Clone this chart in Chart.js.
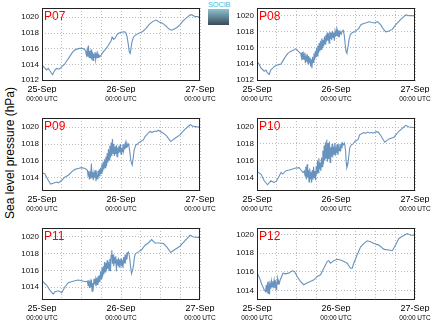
<!DOCTYPE html>
<html><head><meta charset="utf-8">
<script src="https://cdn.jsdelivr.net/npm/chart.js@4.4.1/dist/chart.umd.min.js"></script>
<style>
html,body{margin:0;padding:0;background:#fff;width:434px;height:327px;overflow:hidden;position:relative;font-family:"Liberation Sans",Arial,sans-serif;}
canvas{position:absolute;}
#ylab{position:absolute;left:10px;top:153px;transform:translate(-50%,-50%) rotate(-90deg);font-size:12px;white-space:nowrap;color:#000;}
#logo{position:absolute;left:208px;top:1px;width:21px;}
#logo .t{font-size:7.5px;line-height:7px;color:#35bfe0;letter-spacing:-0.2px;text-align:center;}
#logo .g{margin-top:1px;height:16px;background:linear-gradient(#8cc3cf,#3a4a58);}
</style></head><body>
<div id="ylab">Sea level pressure (hPa)</div>
<div id="logo"><div class="t">SOCIB</div><div class="g"></div></div>
<script>
// ---- data ----
const dateLabels = ['25-Sep','26-Sep','27-Sep'];
const timeLabel = '00:00 UTC';
const hourTicks = [0,6,12,18,24,30,36,42,48];
const dayTicks = [0,24,48];
const pressureTicks = [1012,1014,1016,1018,1020];
const stationNames = ['P07','P08','P09','P10','P11','P12'];
const yMin = [1011.9, 1011.9, 1012.43, 1012.43, 1012.45, 1013.0];
const yMax = [1021.18, 1020.95, 1021.1, 1021.07, 1021.07, 1020.7];

// [hours since 25-Sep 00:00 UTC, hPa]
const P07 = [[0,1013.95],[0.7,1013.6],[1.4,1013.3],[1.9,1013.5],[2.4,1013.2],[3.2,1012.7],[3.8,1013.2],[4.4,1013.5],[5.2,1013.4],[6.0,1013.7],[6.8,1014.0],[7.6,1014.5],[8.4,1015.0],[9.2,1015.5],[9.8,1015.8],[10.6,1015.95],[11.4,1016.05],[12.2,1016.05],[13.0,1015.9],[13.3,1015.6],[13.5,1015.2],[13.7,1015.8],[13.9,1015.0],[14.1,1016.4],[14.3,1014.9],[14.5,1015.7],[14.7,1014.8],[14.9,1015.9],[15.1,1014.6],[15.3,1015.6],[15.5,1014.5],[15.7,1015.4],[15.9,1014.9],[16.1,1015.6],[16.3,1014.6],[16.5,1015.3],[16.7,1014.8],[16.9,1015.4],[17.1,1014.9],[17.3,1015.2],[17.6,1015.0],[18.0,1015.2],[18.6,1015.6],[19.2,1015.9],[19.8,1016.2],[20.4,1016.6],[21.0,1017.0],[21.3,1017.5],[21.8,1017.2],[22.3,1017.4],[22.8,1017.8],[23.4,1018.0],[24.0,1018.1],[24.8,1018.15],[25.4,1018.1],[25.8,1017.6],[26.2,1016.6],[26.5,1015.6],[26.8,1015.4],[27.3,1016.8],[27.8,1017.5],[28.6,1017.8],[29.6,1018.0],[30.6,1018.2],[31.6,1018.6],[32.6,1019.1],[33.6,1019.45],[34.6,1019.65],[35.6,1019.4],[36.6,1019.25],[37.6,1018.9],[38.6,1018.5],[39.4,1018.35],[40.2,1018.5],[41.0,1018.7],[42.0,1019.1],[43.0,1019.6],[44.0,1019.95],[45.0,1020.3],[45.6,1020.3],[46.4,1020.1],[47.2,1020.1],[48.0,1019.95]];
const P08 = [[0,1014.3],[0.6,1014.0],[1.2,1013.5],[1.8,1013.3],[2.2,1013.1],[2.7,1013.25],[3.2,1012.9],[3.7,1012.7],[4.2,1013.3],[4.8,1013.5],[5.3,1013.7],[6.3,1013.9],[7.3,1014.0],[8.3,1014.7],[9.3,1015.3],[10.3,1015.6],[11.0,1015.7],[11.8,1015.9],[12.5,1015.6],[13.0,1015.4],[13.3,1015.3],[13.5,1014.8],[13.7,1015.5],[13.9,1014.5],[14.1,1015.2],[14.3,1014.6],[14.5,1015.4],[14.7,1014.1],[14.9,1014.9],[15.1,1014.3],[15.3,1015.2],[15.5,1014.0],[15.7,1015.0],[15.9,1014.2],[16.1,1014.8],[16.3,1013.7],[16.5,1014.6],[16.7,1013.5],[16.9,1014.9],[17.1,1014.2],[17.3,1015.3],[17.5,1014.5],[17.7,1015.6],[17.9,1014.8],[18.1,1016.0],[18.3,1015.0],[18.5,1016.3],[18.7,1015.3],[18.9,1016.6],[19.1,1015.6],[19.3,1016.9],[19.5,1015.8],[19.7,1017.2],[19.9,1016.0],[20.1,1017.0],[20.3,1016.2],[20.5,1017.4],[20.7,1016.5],[20.9,1017.6],[21.1,1016.8],[21.3,1017.9],[21.5,1016.9],[21.7,1017.8],[21.9,1016.6],[22.1,1018.0],[22.3,1017.1],[22.5,1017.9],[22.7,1017.0],[22.9,1018.1],[23.1,1017.3],[23.3,1017.9],[23.5,1016.9],[23.7,1018.0],[23.9,1017.4],[24.1,1018.2],[24.3,1017.5],[24.5,1018.1],[24.7,1017.4],[24.9,1018.2],[25.1,1017.6],[25.3,1018.0],[25.6,1017.7],[25.9,1018.1],[26.2,1018.2],[26.5,1017.6],[26.8,1016.4],[27.1,1015.5],[27.3,1015.35],[27.6,1016.0],[28.0,1017.1],[28.4,1017.7],[29.0,1017.9],[29.6,1018.0],[30.3,1018.2],[30.9,1018.4],[31.5,1018.85],[32.2,1019.0],[33.0,1019.1],[34.0,1019.25],[35.6,1019.1],[36.6,1019.25],[37.6,1018.85],[38.3,1018.4],[39.1,1018.0],[40.1,1018.1],[41.1,1018.3],[42.1,1018.85],[43.6,1019.5],[45.2,1020.1],[46.2,1020.0],[47.0,1020.0],[48.0,1019.95]];
const P09 = [[0,1014.6],[0.9,1014.45],[1.9,1013.7],[2.6,1013.25],[3.4,1013.35],[4.5,1013.5],[5.0,1013.4],[6.0,1013.7],[6.5,1013.9],[7.0,1014.1],[8.0,1014.3],[9.0,1014.7],[10.0,1015.0],[11.0,1015.1],[12.0,1015.2],[13.1,1015.1],[13.8,1014.9],[14.0,1014.2],[14.2,1014.8],[14.4,1013.8],[14.6,1014.5],[14.8,1013.9],[15.0,1015.7],[15.2,1014.0],[15.4,1014.7],[15.6,1013.7],[15.8,1014.6],[16.0,1014.0],[16.2,1014.9],[16.4,1013.6],[16.6,1014.4],[16.8,1013.9],[17.0,1014.8],[17.2,1014.1],[17.4,1015.0],[17.6,1014.2],[17.8,1015.2],[18.0,1014.5],[18.2,1015.6],[18.4,1014.7],[18.6,1015.9],[18.8,1015.0],[19.0,1016.2],[19.2,1015.2],[19.4,1016.5],[19.6,1015.4],[19.8,1016.9],[20.0,1015.8],[20.2,1017.4],[20.4,1016.1],[20.6,1017.8],[20.8,1016.4],[21.0,1018.2],[21.2,1016.6],[21.4,1018.6],[21.6,1016.9],[21.8,1018.0],[22.0,1016.6],[22.2,1017.7],[22.4,1016.8],[22.6,1017.9],[22.8,1016.5],[23.0,1017.6],[23.2,1016.9],[23.4,1017.8],[23.6,1017.0],[23.8,1018.0],[24.0,1016.8],[24.2,1017.6],[24.4,1017.1],[24.6,1018.0],[24.8,1017.2],[25.0,1017.8],[25.2,1017.4],[25.4,1018.1],[25.6,1017.6],[25.8,1018.1],[26.0,1017.8],[26.3,1018.0],[26.6,1017.3],[27.0,1016.0],[27.4,1015.5],[27.7,1016.3],[28.0,1017.3],[28.5,1017.9],[29.0,1018.0],[29.5,1018.2],[30.0,1018.3],[30.8,1018.5],[31.3,1018.9],[31.8,1019.1],[32.3,1019.3],[32.8,1019.5],[33.3,1019.4],[33.8,1019.45],[34.3,1019.55],[34.8,1019.5],[35.3,1019.65],[36.9,1019.3],[37.9,1018.95],[39.1,1018.3],[40.4,1018.7],[41.9,1019.1],[43.4,1019.75],[45.0,1020.3],[46.0,1020.1],[48.0,1020.0]];
const P10 = [[0,1014.72],[1.2,1014.44],[2.2,1013.64],[3.2,1013.17],[4.2,1013.64],[5.1,1013.44],[5.8,1013.56],[6.8,1014.24],[7.3,1014.64],[7.8,1014.44],[8.8,1014.84],[9.8,1014.91],[10.8,1015.03],[11.8,1015.15],[12.8,1015.2],[13.2,1015.0],[13.6,1014.8],[14.0,1014.6],[14.4,1014.8],[14.6,1014.2],[14.8,1015.3],[15.0,1013.8],[15.2,1015.6],[15.4,1014.0],[15.6,1014.9],[15.8,1013.5],[16.0,1015.1],[16.2,1013.9],[16.4,1014.7],[16.6,1013.4],[16.8,1014.9],[17.0,1013.8],[17.2,1015.3],[17.4,1014.0],[17.6,1014.8],[17.8,1013.7],[18.0,1015.4],[18.2,1014.4],[18.4,1016.0],[18.6,1014.6],[18.8,1016.3],[19.0,1015.0],[19.2,1015.8],[19.4,1014.8],[19.6,1016.4],[19.8,1015.3],[20.0,1017.2],[20.2,1015.6],[20.4,1017.8],[20.6,1016.0],[20.8,1018.2],[21.0,1016.3],[21.2,1018.5],[21.4,1015.9],[21.6,1018.1],[21.8,1016.2],[22.0,1018.3],[22.2,1015.8],[22.4,1017.6],[22.6,1016.5],[22.8,1018.0],[23.0,1016.4],[23.2,1017.7],[23.4,1016.8],[23.6,1018.1],[23.8,1016.6],[24.0,1017.5],[24.2,1016.9],[24.4,1018.0],[24.6,1016.7],[24.8,1017.6],[25.0,1017.2],[25.2,1018.0],[25.4,1017.1],[25.6,1017.9],[25.8,1017.5],[26.0,1018.1],[26.3,1017.9],[26.6,1018.1],[26.9,1017.2],[27.1,1015.8],[27.3,1015.2],[27.6,1015.6],[27.9,1016.6],[28.2,1017.6],[28.7,1017.9],[29.2,1018.0],[29.7,1018.3],[30.2,1018.4],[30.7,1018.5],[31.2,1019.1],[31.8,1019.2],[32.4,1019.35],[33.0,1019.25],[33.6,1019.4],[34.2,1019.3],[34.8,1019.35],[35.4,1019.3],[36.3,1019.45],[36.8,1019.4],[37.6,1019.0],[38.8,1018.2],[40.1,1018.6],[41.6,1018.8],[43.1,1019.5],[45.2,1020.2],[46.2,1020.0],[48.0,1019.92]];
const P11 = [[0,1014.72],[1.4,1014.24],[2.4,1013.64],[3.4,1013.17],[3.9,1013.44],[5.0,1013.56],[6.0,1013.33],[7.0,1014.04],[8.0,1014.52],[9.0,1014.64],[10.0,1014.76],[11.0,1014.84],[12.1,1014.76],[13.1,1014.64],[13.8,1014.7],[14.0,1014.2],[14.2,1014.8],[14.4,1013.9],[14.6,1014.6],[14.8,1014.0],[15.0,1014.9],[15.2,1013.5],[15.4,1014.5],[15.6,1014.0],[15.8,1015.0],[16.0,1014.3],[16.2,1014.9],[16.4,1014.1],[16.6,1015.1],[16.8,1014.3],[17.0,1015.3],[17.2,1014.5],[17.4,1015.4],[17.6,1014.6],[17.8,1015.9],[18.0,1015.0],[18.2,1016.3],[18.4,1015.2],[18.6,1016.5],[18.8,1015.5],[19.0,1017.0],[19.2,1015.8],[19.4,1016.9],[19.6,1016.0],[19.8,1017.2],[20.0,1016.2],[20.2,1017.0],[20.4,1016.0],[20.6,1017.4],[20.8,1015.9],[21.0,1017.8],[21.2,1018.4],[21.4,1016.8],[21.6,1017.9],[21.8,1016.5],[22.0,1017.6],[22.2,1016.9],[22.4,1017.7],[22.6,1015.9],[22.8,1017.3],[23.0,1016.6],[23.2,1017.5],[23.4,1016.4],[23.6,1017.3],[23.8,1016.7],[24.0,1017.4],[24.2,1016.5],[24.4,1017.2],[24.6,1016.3],[24.8,1017.6],[25.0,1016.9],[25.2,1017.9],[25.4,1017.2],[25.6,1017.8],[25.8,1017.3],[26.0,1018.1],[26.3,1018.2],[26.6,1017.6],[26.9,1016.5],[27.2,1015.6],[27.5,1016.0],[27.8,1016.6],[28.1,1017.6],[28.4,1018.0],[29.3,1018.21],[30.3,1018.49],[31.3,1019.01],[32.3,1019.28],[33.3,1019.68],[34.3,1019.28],[35.8,1019.28],[36.9,1019.21],[37.9,1018.81],[39.1,1018.13],[40.4,1018.49],[41.9,1018.89],[43.4,1019.52],[45.0,1020.2],[46.0,1020.0],[48.0,1019.92]];
const P12 = [[0,1015.94],[0.8,1015.34],[1.5,1014.63],[2.2,1014.1],[2.6,1013.9],[2.8,1014.6],[3.0,1013.8],[3.2,1014.9],[3.4,1013.7],[3.6,1015.0],[3.8,1013.6],[4.0,1014.7],[4.2,1014.2],[4.4,1015.0],[4.6,1014.4],[4.8,1015.0],[5.0,1014.5],[5.2,1015.1],[5.4,1014.3],[5.6,1015.1],[5.8,1014.1],[6.0,1014.6],[6.2,1015.3],[6.4,1014.7],[6.6,1015.0],[6.8,1014.8],[7.1,1015.2],[7.9,1015.87],[8.6,1015.8],[9.6,1015.87],[10.7,1016.12],[11.4,1016.05],[12.2,1015.52],[13.2,1014.99],[14.2,1014.63],[15.2,1014.81],[16.2,1014.99],[17.3,1015.16],[18.3,1015.52],[19.3,1015.69],[20.3,1016.4],[21.3,1017.11],[21.8,1017.21],[22.3,1016.93],[23.3,1017.21],[24.4,1017.35],[25.4,1017.28],[26.4,1017.11],[27.4,1016.93],[28.4,1016.4],[28.9,1016.4],[29.4,1016.93],[30.4,1017.81],[31.5,1018.69],[32.5,1019.05],[33.5,1019.33],[34.5,1019.22],[35.5,1019.05],[37.0,1018.87],[38.6,1018.41],[40.1,1018.34],[41.1,1018.27],[42.1,1018.87],[43.1,1019.58],[44.7,1019.93],[45.7,1020.11],[46.7,1019.93],[48.0,1019.93]];
const series = [P07,P08,P09,P10,P11,P12];

// ---- layout ----
const panelPos = [
  {left:42, top:8, h:73},{left:257, top:8, h:73},
  {left:42, top:118, h:73},{left:257, top:118, h:73},
  {left:42, top:228, h:72},{left:257, top:228, h:72}
];
const FONT = '"Liberation Sans", Arial, sans-serif';

const framePlugin = {
  id: 'frame',
  afterDraw(chart, args, opts) {
    const {ctx, chartArea: a} = chart;
    ctx.save();
    ctx.strokeStyle = '#222';
    ctx.lineWidth = 1;
    ctx.strokeRect(a.left + 0.5, a.top + 0.5, a.right - a.left - 1, a.bottom - a.top - 1);
    ctx.fillStyle = '#ff0000';
    ctx.font = '12px ' + FONT;
    ctx.textBaseline = 'top';
    ctx.fillText(opts.name, a.left + 2, a.top + 3);
    ctx.restore();
  }
};

stationNames.forEach((name, i) => {
  const p = panelPos[i];
  const cv = document.createElement('canvas');
  const W = 220, H = 6 + p.h + 30;
  cv.width = W; cv.height = H;
  cv.style.left = (p.left - 42) + 'px';
  cv.style.top = (p.top - 6) + 'px';
  cv.style.width = W + 'px'; cv.style.height = H + 'px';
  document.body.appendChild(cv);
  new Chart(cv, {
    type: 'line',
    data: { datasets: [{
      data: series[i].map(d => ({x: d[0], y: d[1]})),
      borderColor: '#6893be', borderWidth: 1.1, pointRadius: 0, tension: 0, fill: false
    }]},
    options: {
      responsive: false, animation: false, devicePixelRatio: 1,
      layout: { padding: {top: 6, right: 20, bottom: 0, left: 0} },
      plugins: { legend: {display: false}, tooltip: {enabled: false}, frame: {name} },
      scales: {
        x: {
          type: 'linear', min: 0, max: 48, position: 'bottom',
          afterBuildTicks: s => { s.ticks = hourTicks.map(v => ({value: v})); },
          afterFit: s => { s.height = 12; s.paddingLeft = 0; s.paddingRight = 0; },
          grid: {color: '#bbbbbb', lineWidth: 1, drawTicks: false},
          border: {display: false, dash: [1, 2]},
          ticks: {autoSkip: false, maxRotation: 0, minRotation: 0, padding: 3,
            font: {size: 9, family: FONT}, color: '#000',
            callback: v => (v % 24 === 0 ? dateLabels[v / 24] : '')}
        },
        x2: {
          type: 'linear', min: 0, max: 48, position: 'bottom',
          afterBuildTicks: s => { s.ticks = dayTicks.map(v => ({value: v})); },
          afterFit: s => { s.height = 18; s.paddingLeft = 0; s.paddingRight = 0; },
          grid: {display: false, drawTicks: false},
          border: {display: false},
          ticks: {autoSkip: false, maxRotation: 0, minRotation: 0, padding: 2,
            font: {size: 6.5, family: FONT}, color: '#000', callback: () => timeLabel}
        },
        y: {
          min: yMin[i], max: yMax[i],
          afterBuildTicks: s => { s.ticks = pressureTicks.filter(v => v >= s.min && v <= s.max).map(v => ({value: v})); },
          afterFit: s => { s.width = 42; s.paddingTop = 0; s.paddingBottom = 0; },
          grid: {color: '#bbbbbb', lineWidth: 1, drawTicks: false},
          border: {display: false, dash: [1, 2]},
          ticks: {padding: 3, font: {size: 8, family: FONT}, color: '#111', callback: v => String(v)}
        }
      }
    },
    plugins: [framePlugin]
  });
});
</script>
</body></html>
